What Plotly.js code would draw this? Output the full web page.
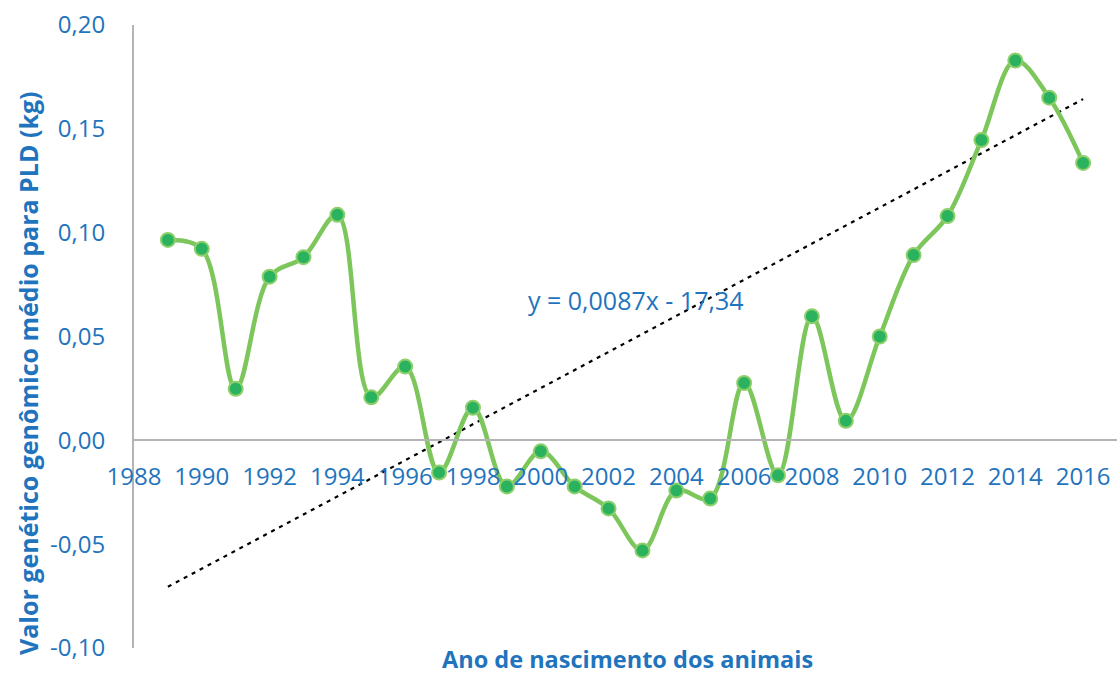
<!DOCTYPE html>
<html>
<head>
<meta charset="utf-8">
<script src="https://cdn.plot.ly/plotly-3.0.1.min.js"></script>
<style>html,body{margin:0;padding:0;background:#fff;}#chart{width:1119px;height:682px;}</style>
</head>
<body>
<div id="chart"></div>
<script>
const years = [1989,1990,1991,1992,1993,1994,1995,1996,1997,1998,1999,2000,2001,2002,2003,2004,2005,2006,2007,2008,2009,2010,2011,2012,2013,2014,2015,2016];
const values = [0.0965,0.0922,0.0248,0.0788,0.0882,0.1086,0.0207,0.0355,-0.0155,0.0157,-0.0222,-0.0053,-0.0222,-0.0328,-0.0530,-0.0242,-0.0280,0.0276,-0.0168,0.0597,0.0094,0.0500,0.0892,0.1080,0.1446,0.1829,0.1650,0.1336];
// trendline end points as drawn in the reference
const trendYears = [1989, 2016];
const trendValues = [-0.0705, 0.1643];
const xTickVals = [1988,1990,1992,1994,1996,1998,2000,2002,2004,2006,2008,2010,2012,2014,2016];
const yTickVals = [-0.10,-0.05,0.00,0.05,0.10,0.15,0.20];
const equationText = "y = 0,0087x - 17,34";
const xTitle = "Ano de nascimento dos animais";
const yTitle = "Valor genético genômico médio para PLD (kg)";

const blue = '#1F74BD';
const font = '"Open Sans", sans-serif';
const fmt = v => v.toFixed(2).replace('.', ',');

const traces = [
  {x: trendYears, y: trendValues, type:'scatter', mode:'lines',
   line:{color:'#000', width:2.2, dash:'4px,5px'}, hoverinfo:'skip'},
  {x: years, y: values, type:'scatter', mode:'lines+markers',
   line:{color:'#7CC65B', width:4.5, shape:'spline', smoothing:1},
   marker:{size:14, color:'#2AB25E', line:{color:'#8DCF6A', width:2}}}
];

const layout = {
  width:1119, height:682,
  margin:{l:134, r:2, t:25, b:34},
  paper_bgcolor:'#fff', plot_bgcolor:'#fff',
  showlegend:false,
  font:{family:font, color:blue},
  xaxis:{
    range:[1988,2017], tickmode:'array', tickvals:xTickVals, ticktext:xTickVals.map(String),
    showgrid:false, zeroline:false, showline:true, linecolor:'#B4B4B4', linewidth:2,
    ticks:'', anchor:'free', position:1/3, ticklabelstandoff:15,
    tickfont:{family:font, size:24, color:blue}
  },
  yaxis:{
    range:[-0.10,0.20], tickmode:'array', tickvals:yTickVals, ticktext:yTickVals.map(fmt),
    showgrid:false, zeroline:false, showline:true, linecolor:'#B4B4B4', linewidth:2,
    ticks:'', ticklabelstandoff:22,
    tickfont:{family:font, size:24, color:blue}
  },
  annotations:[
    {text:equationText, xref:'paper', yref:'paper', x:(636-134)/983, y:(657-309)/623,
     xanchor:'center', yanchor:'middle', showarrow:false, font:{family:font, size:25, color:blue}},
    {text:'<b>'+xTitle+'</b>', xref:'paper', yref:'paper', x:(627-134)/983, y:(657-668)/623,
     xanchor:'center', yanchor:'middle', showarrow:false, font:{family:font, size:23.5, color:blue}},
    {text:'<b>'+yTitle+'</b>', xref:'paper', yref:'paper', x:(28-134)/983, y:(657-382)/623,
     xanchor:'center', yanchor:'middle', textangle:-90, showarrow:false, font:{family:font, size:25, color:blue}}
  ]
};

Plotly.newPlot('chart', traces, layout, {displayModeBar:false, staticPlot:true});
</script>
</body>
</html>
